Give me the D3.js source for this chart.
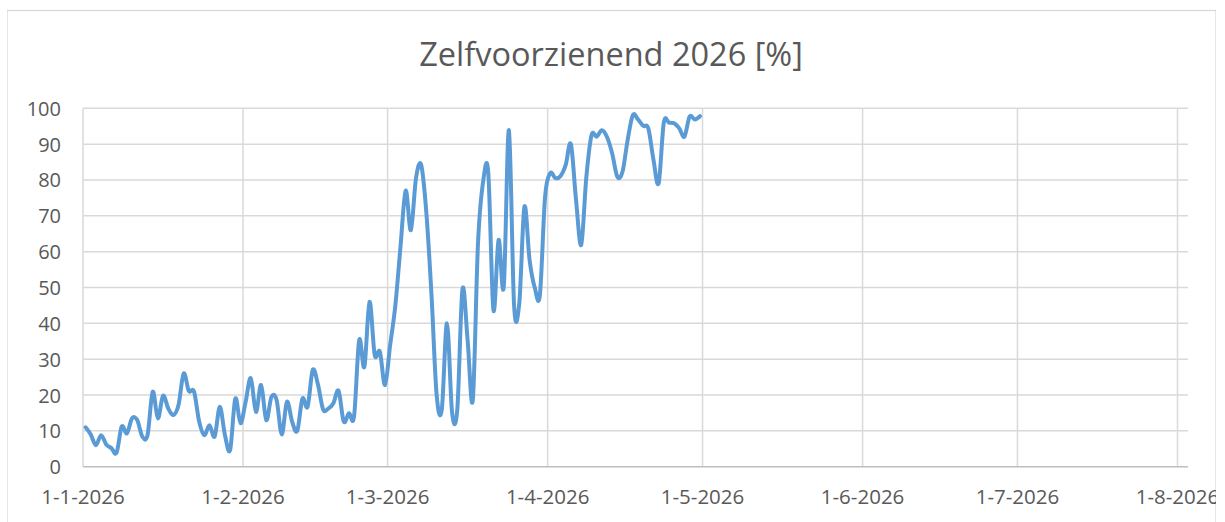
<!DOCTYPE html>
<html><head><meta charset="utf-8">
<script src="https://cdn.jsdelivr.net/npm/d3@7"></script>
<style>
body{margin:0;background:#fff}
svg{display:block}
text{font-family:'Open Sans',sans-serif;fill:#595959}
</style>
</head><body>
<svg id="c" width="1225" height="522"></svg>
<script>
const chartTitle = "Zelfvoorzienend 2026 [%]";
const firstDay = "2026-01-01";
// daily values, 1-1-2026 .. 30-4-2026
const selfSufficiency = [
 11, 9, 6, 8.8, 6.2, 5.2, 3.9, 11.2, 9.3, 13.5,
 13, 8.4, 8.8, 20.9, 13.5, 19.8, 16.3, 14.4, 17.2, 26,
 21.1, 21, 12.6, 8.8, 11.6, 8.4, 16.7, 8.8, 4.7, 19,
 12.1, 18.1, 24.7, 15.3, 22.8, 13, 19.5, 18.6, 9, 18.1,
 12.6, 10, 19, 16.7, 27, 23, 16, 16.2, 17.7, 21.2,
 12.6, 14.9, 14, 35.3, 27.9, 46, 31.2, 32.1, 22.8, 34,
 45, 61.4, 77, 66, 80.5, 84.2, 71, 48, 20, 16,
 40, 15, 16, 49.5, 35.3, 18.6, 62, 79.5, 82, 43.7,
 63.3, 50.2, 93.9, 45, 45.5, 72.5, 57.7, 50, 48, 75.3,
 81.9, 80.5, 81.1, 84.2, 90, 74.4, 61.9, 80.9, 92.5, 92.1,
 93.9, 92, 87.4, 80.9, 82.3, 91.2, 98.1, 96.9, 95.1, 94.4,
 85.6, 79.1, 96, 96, 95.8, 94.4, 92.1, 97.7, 96.9, 97.8
];
const yTickValues = [0, 10, 20, 30, 40, 50, 60, 70, 80, 90, 100];
const xTickDates = ["2026-01-01","2026-02-01","2026-03-01","2026-04-01","2026-05-01","2026-06-01","2026-07-01","2026-08-01"];
const xTickLabels = ["1-1-2026","1-2-2026","1-3-2026","1-4-2026","1-5-2026","1-6-2026","1-7-2026","1-8-2026"];

const svg = d3.select("#c");
const W = 1225, H = 522;
const plot = {left: 83, right: 1188, top: 108.3, bottom: 466.7};
const parse = d3.utcParse("%Y-%m-%d");
const t0 = parse(firstDay);
const tickDates = xTickDates.map(parse);

const x = d3.scaleUtc().domain([tickDates[0], tickDates[tickDates.length - 1]]).range([83, 1177.5]);
const y = d3.scaleLinear().domain([0, 100]).range([plot.bottom, plot.top]);

svg.append("defs").append("clipPath").attr("id", "chartClip")
  .append("rect").attr("x", 7).attr("y", 0).attr("width", 1209).attr("height", H);
const g = svg.append("g").attr("clip-path", "url(#chartClip)");

g.append("rect").attr("x", 7).attr("y", 10.5).attr("width", 1209).attr("height", 530)
  .attr("fill", "none").attr("stroke", "#d9d9d9").attr("stroke-width", 1.3);

g.append("g").selectAll("line").data(yTickValues.filter(v => v > 0)).join("line")
  .attr("x1", plot.left).attr("x2", plot.right)
  .attr("y1", d => y(d)).attr("y2", d => y(d))
  .attr("stroke", "#d9d9d9").attr("stroke-width", 1.5);

g.append("g").selectAll("line").data(tickDates).join("line")
  .attr("x1", d => x(d)).attr("x2", d => x(d))
  .attr("y1", plot.top).attr("y2", plot.bottom)
  .attr("stroke", "#d9d9d9").attr("stroke-width", 1.5);

g.append("line").attr("x1", plot.left).attr("x2", plot.right)
  .attr("y1", plot.bottom).attr("y2", plot.bottom)
  .attr("stroke", "#bfbfbf").attr("stroke-width", 1.5);

g.append("g").selectAll("text").data(yTickValues).join("text")
  .attr("x", 61).attr("y", d => y(d) + 7.5)
  .attr("text-anchor", "end").attr("font-size", 20)
  .text(d => d);

g.append("g").selectAll("text").data(tickDates).join("text")
  .attr("x", d => x(d)).attr("y", 504)
  .attr("text-anchor", "middle").attr("font-size", 20.5)
  .text((d, i) => xTickLabels[i]);

g.append("text").attr("x", 611).attr("y", 66)
  .attr("text-anchor", "middle").attr("font-size", 32.5)
  .text(chartTitle);

const pts = selfSufficiency.map((v, i) => ({date: d3.utcHour.offset(d3.utcDay.offset(t0, i), 12), v}));
const line = d3.line().x(d => x(d.date)).y(d => y(d.v)).curve(d3.curveCatmullRom.alpha(0));
g.append("path").datum(pts).attr("d", line)
  .attr("fill", "none").attr("stroke", "#5b9bd5").attr("stroke-width", 4)
  .attr("stroke-linejoin", "round").attr("stroke-linecap", "round");
</script>
</body></html>
